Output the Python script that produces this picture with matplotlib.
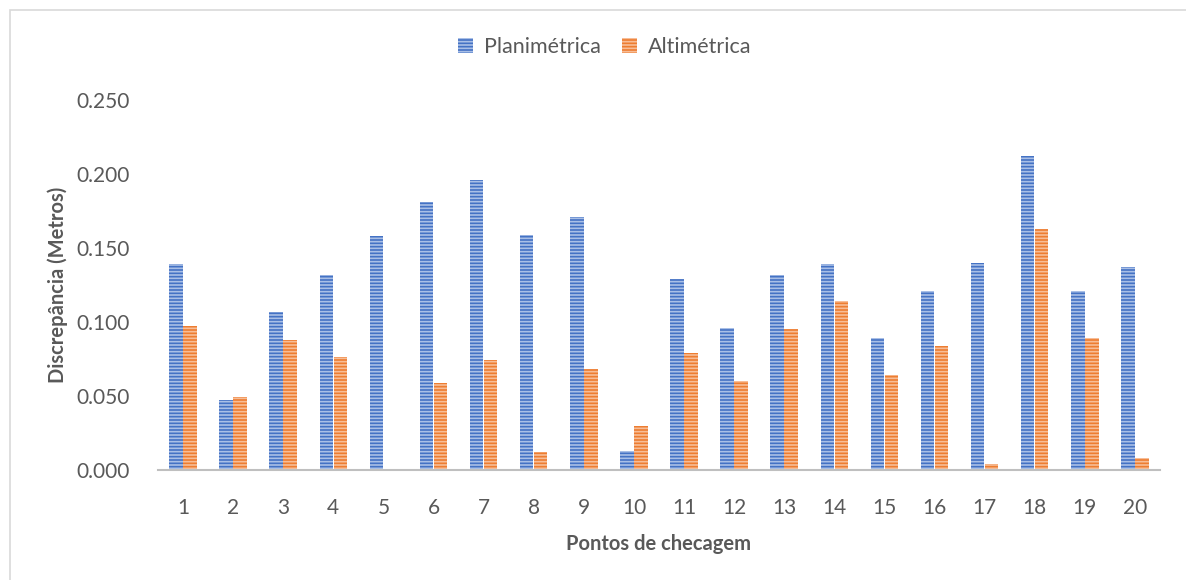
import matplotlib.pyplot as plt
import matplotlib.patches as mpatches
import numpy as np

plt.rcParams['font.family'] = ['Lato', 'DejaVu Sans']
plt.rcParams['hatch.linewidth'] = 1.2

pontos = [str(i) for i in range(1, 21)]
planimetrica = [0.139, 0.047, 0.107, 0.132, 0.158, 0.181, 0.196, 0.159, 0.171, 0.013,
                0.129, 0.096, 0.132, 0.139, 0.089, 0.121, 0.140, 0.212, 0.121, 0.137]
altimetrica = [0.097, 0.049, 0.088, 0.076, 0.0, 0.059, 0.074, 0.012, 0.068, 0.030,
               0.079, 0.060, 0.095, 0.114, 0.064, 0.084, 0.004, 0.163, 0.089, 0.008]

cinza = '#595959'

fig = plt.figure(figsize=(11.86, 5.80), dpi=100)
ax = fig.add_axes([0.1332, 0.1897, 0.8448, 0.6379])

x = np.arange(1, 21)
w = 0.27
ax.bar(x - 0.14, planimetrica, w, color='#4472c4', edgecolor='#a9bfe6',
       linewidth=0, hatch='-----', label='Planimétrica')
ax.bar(x + 0.14, altimetrica, w, color='#ed7d31', edgecolor='#f7bd97',
       linewidth=0, hatch='-----', label='Altimétrica')

ax.set_xlim(0.5, 20.5)
ax.set_ylim(0, 0.25)
ax.set_yticks(np.arange(0, 0.251, 0.05))
ax.set_yticklabels(['%.3f' % v for v in np.arange(0, 0.251, 0.05)])
ax.set_xticks(x)
ax.set_xticklabels(pontos)
ax.tick_params(axis='both', length=0, labelsize=15, colors=cinza)
ax.tick_params(axis='x', pad=20)
ax.tick_params(axis='y', pad=20)

for s in ['top', 'right', 'left']:
    ax.spines[s].set_visible(False)
ax.spines['bottom'].set_color('#bfbfbf')
ax.spines['bottom'].set_linewidth(1.5)

ax.set_xlabel('Pontos de checagem', fontsize=14.5, fontweight='bold', color=cinza, labelpad=12)
ax.set_ylabel('Discrepância (Metros)', fontsize=14.5, fontweight='bold', color=cinza, labelpad=6)

fig.legend(loc='center', bbox_to_anchor=(0.51, 0.919), ncol=2, frameon=False,
           fontsize=15.5, labelcolor=cinza, handlelength=0.7, handleheight=0.7,
           columnspacing=1.0, handletextpad=0.5)

# moldura do grafico
fig.patches.append(mpatches.Rectangle((10 / 1186, -0.05), 1.2, 1 - 10 / 580 + 0.05,
                                      transform=fig.transFigure, fill=False,
                                      edgecolor='#d9d9d9', linewidth=1.2))

plt.savefig('out.png')
